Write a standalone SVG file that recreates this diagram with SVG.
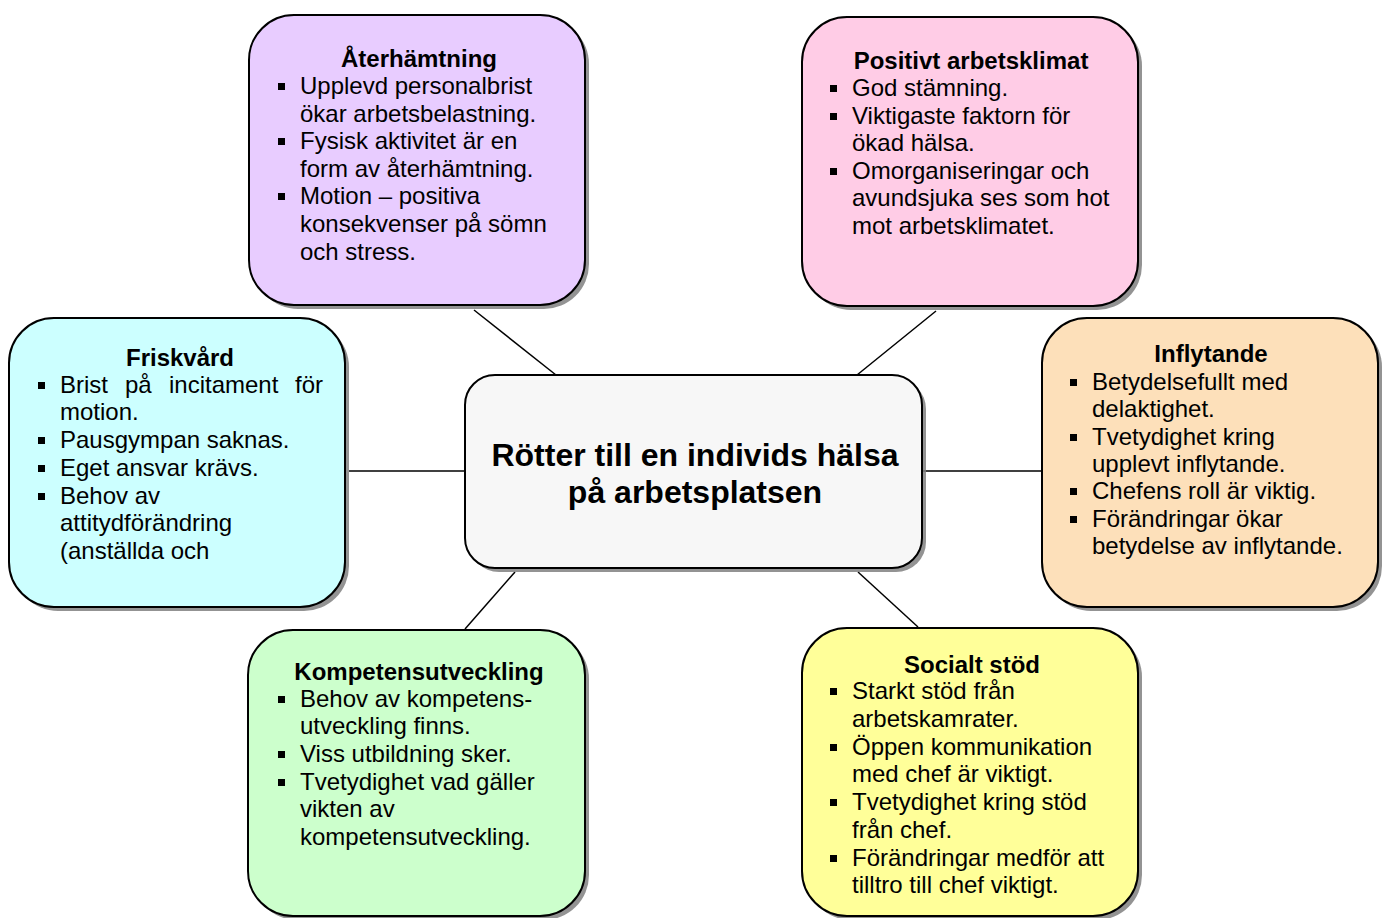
<svg xmlns="http://www.w3.org/2000/svg" width="1388" height="918" viewBox="0 0 1388 918">
<style>
.box{stroke:#000;stroke-width:2}
.shadow{fill:#808080;opacity:0.85}
.t{font-family:"Liberation Sans",Arial,sans-serif;font-size:24px;fill:#000}
.h{font-family:"Liberation Sans",Arial,sans-serif;font-size:24px;font-weight:bold;fill:#000;text-anchor:middle}
.c{font-family:"Liberation Sans",Arial,sans-serif;font-size:32px;font-weight:bold;fill:#000;text-anchor:middle}
.b{fill:#000}
.conn line{stroke:#000;stroke-width:1.5}
</style>
<rect width="1388" height="918" fill="#fff"/>
<g class="conn" id="connectors">
<line x1="474" y1="310" x2="556" y2="375"/>
<line x1="936" y1="311" x2="857" y2="375"/>
<line x1="349" y1="471" x2="465" y2="471"/>
<line x1="922" y1="471" x2="1042" y2="471"/>
<line x1="515" y1="572" x2="465" y2="629"/>
<line x1="858" y1="572" x2="918" y2="627"/>
</g>
<g id="center">
<rect class="shadow" x="469" y="379" width="457" height="193" rx="30"/>
<rect class="box" x="465" y="375" width="457" height="193" rx="30" fill="#f7f7f7"/>
<text class="c" x="695" y="466">Rötter till en individs hälsa</text>
<text class="c" x="695" y="503">på arbetsplatsen</text>
</g>
<g id="aterhamtning">
<rect class="shadow" x="253" y="19" width="336" height="290" rx="45"/>
<rect class="box" x="249" y="15" width="336" height="290" rx="45" fill="#e8ccff"/>
<text class="h" x="419" y="67">Återhämtning</text>
<rect class="b" x="278" y="83" width="7" height="7"/>
<text class="t" x="300" y="94">Upplevd personalbrist</text>
<text class="t" x="300" y="122">ökar arbetsbelastning.</text>
<rect class="b" x="278" y="138" width="7" height="7"/>
<text class="t" x="300" y="149">Fysisk aktivitet är en</text>
<text class="t" x="300" y="177">form av återhämtning.</text>
<rect class="b" x="278" y="193" width="7" height="7"/>
<text class="t" x="300" y="204">Motion – positiva</text>
<text class="t" x="300" y="232">konsekvenser på sömn</text>
<text class="t" x="300" y="260">och stress.</text>
</g>
<g id="positivt">
<rect class="shadow" x="806" y="21" width="336" height="289" rx="45"/>
<rect class="box" x="802" y="17" width="336" height="289" rx="45" fill="#ffcce6"/>
<text class="h" x="971" y="69">Positivt arbetsklimat</text>
<rect class="b" x="830" y="85" width="7" height="7"/>
<text class="t" x="852" y="96">God stämning.</text>
<rect class="b" x="830" y="113" width="7" height="7"/>
<text class="t" x="852" y="124">Viktigaste faktorn för</text>
<text class="t" x="852" y="151">ökad hälsa.</text>
<rect class="b" x="830" y="168" width="7" height="7"/>
<text class="t" x="852" y="179">Omorganiseringar och</text>
<text class="t" x="852" y="206">avundsjuka ses som hot</text>
<text class="t" x="852" y="234">mot arbetsklimatet.</text>
</g>
<g id="friskvard">
<rect class="shadow" x="13" y="322" width="336" height="289" rx="45"/>
<rect class="box" x="9" y="318" width="336" height="289" rx="45" fill="#ccffff"/>
<text class="h" x="180" y="366">Friskvård</text>
<rect class="b" x="38" y="382" width="7" height="7"/>
<text class="t" y="393"><tspan x="60">Brist</tspan><tspan x="125">på</tspan><tspan x="169">incitament</tspan><tspan x="295">för</tspan></text>
<text class="t" x="60" y="420">motion.</text>
<rect class="b" x="38" y="437" width="7" height="7"/>
<text class="t" x="60" y="448">Pausgympan saknas.</text>
<rect class="b" x="38" y="465" width="7" height="7"/>
<text class="t" x="60" y="476">Eget ansvar krävs.</text>
<rect class="b" x="38" y="493" width="7" height="7"/>
<text class="t" x="60" y="504">Behov av</text>
<text class="t" x="60" y="531">attitydförändring</text>
<text class="t" x="60" y="559">(anställda och</text>
</g>
<g id="inflytande">
<rect class="shadow" x="1046" y="322" width="336" height="289" rx="45"/>
<rect class="box" x="1042" y="318" width="336" height="289" rx="45" fill="#fde0ba"/>
<text class="h" x="1211" y="362">Inflytande</text>
<rect class="b" x="1070" y="379" width="7" height="7"/>
<text class="t" x="1092" y="390">Betydelsefullt med</text>
<text class="t" x="1092" y="417">delaktighet.</text>
<rect class="b" x="1070" y="434" width="7" height="7"/>
<text class="t" x="1092" y="445">Tvetydighet kring</text>
<text class="t" x="1092" y="472">upplevt inflytande.</text>
<rect class="b" x="1070" y="488" width="7" height="7"/>
<text class="t" x="1092" y="499">Chefens roll är viktig.</text>
<rect class="b" x="1070" y="516" width="7" height="7"/>
<text class="t" x="1092" y="527">Förändringar ökar</text>
<text class="t" x="1092" y="554">betydelse av inflytande.</text>
</g>
<g id="kompetens">
<rect class="shadow" x="252" y="634" width="337" height="286" rx="45"/>
<rect class="box" x="248" y="630" width="337" height="286" rx="45" fill="#ccffcc"/>
<text class="h" x="419" y="680">Kompetensutveckling</text>
<rect class="b" x="278" y="696" width="7" height="7"/>
<text class="t" x="300" y="707">Behov av kompetens-</text>
<text class="t" x="300" y="734">utveckling finns.</text>
<rect class="b" x="278" y="751" width="7" height="7"/>
<text class="t" x="300" y="762">Viss utbildning sker.</text>
<rect class="b" x="278" y="779" width="7" height="7"/>
<text class="t" x="300" y="790">Tvetydighet vad gäller</text>
<text class="t" x="300" y="817">vikten av</text>
<text class="t" x="300" y="845">kompetensutveckling.</text>
</g>
<g id="socialt">
<rect class="shadow" x="806" y="632" width="336" height="288" rx="45"/>
<rect class="box" x="802" y="628" width="336" height="288" rx="45" fill="#ffff99"/>
<text class="h" x="972" y="673">Socialt stöd</text>
<rect class="b" x="830" y="688" width="7" height="7"/>
<text class="t" x="852" y="699">Starkt stöd från</text>
<text class="t" x="852" y="727">arbetskamrater.</text>
<rect class="b" x="830" y="744" width="7" height="7"/>
<text class="t" x="852" y="755">Öppen kommunikation</text>
<text class="t" x="852" y="782">med chef är viktigt.</text>
<rect class="b" x="830" y="799" width="7" height="7"/>
<text class="t" x="852" y="810">Tvetydighet kring stöd</text>
<text class="t" x="852" y="838">från chef.</text>
<rect class="b" x="830" y="855" width="7" height="7"/>
<text class="t" x="852" y="866">Förändringar medför att</text>
<text class="t" x="852" y="893">tilltro till chef viktigt.</text>
</g>
</svg>
